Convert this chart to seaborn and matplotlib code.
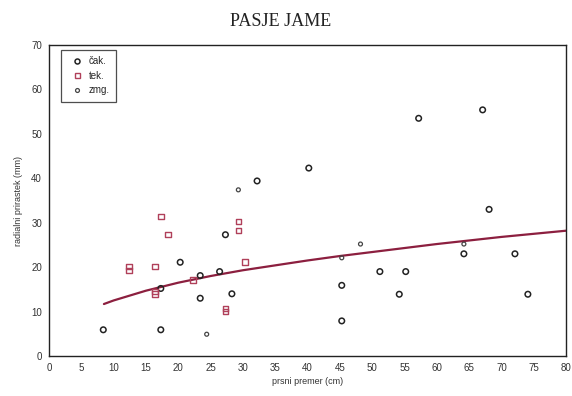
import matplotlib
matplotlib.use("Agg")
import matplotlib.pyplot as plt
from matplotlib.lines import Line2D
import seaborn as sns
import numpy as np

# ---- data ----
cak_x = [8.4, 17.3, 17.3, 20.3, 23.4, 23.4, 26.4, 27.3, 28.3, 32.2, 40.2, 45.3, 45.3,
         51.2, 54.2, 55.2, 57.2, 64.2, 67.1, 68.1, 72.1, 74.1]
cak_y = [5.9, 15.2, 5.9, 21.1, 18.1, 13.0, 19.0, 27.3, 14.0, 39.4, 42.3, 15.9, 7.9,
         19.0, 13.9, 19.0, 53.5, 23.0, 55.4, 33.0, 23.0, 13.9]
tek_x = [12.4, 12.4, 16.4, 16.4, 16.4, 17.3, 18.4, 22.3, 27.3, 27.3, 29.3, 29.3, 30.3]
tek_y = [20.1, 19.2, 20.1, 14.5, 14.0, 31.4, 27.3, 17.1, 10.7, 10.0, 30.3, 28.2, 21.1]
zmg_x = [24.4, 29.3, 45.3, 48.2, 64.2]
zmg_y = [4.9, 37.4, 22.1, 25.2, 25.2]
curve_x = [8.5, 10, 15, 20, 25, 30, 35, 40, 45, 50, 55, 60, 65, 70, 75, 80]
curve_y = [11.7, 12.5, 14.7, 16.5, 18.0, 19.3, 20.4, 21.5, 22.5, 23.4, 24.3, 25.2, 26.0, 26.8, 27.5, 28.2]
legend_labels = ["čak.", "tek.", "zmg."]
x_ticks = list(range(0, 85, 5))
y_ticks = list(range(0, 80, 10))

sns.set_theme(style="white")
plt.rcParams['font.family'] = ['Liberation Sans', 'DejaVu Sans']

fig = plt.figure(figsize=(5.72, 3.96), dpi=100)
ax = fig.add_axes([49/572, 1-356/396, (566-49)/572, (356-45)/396])

col_cak = "#222222"
col_tek = "#b0405a"
col_zmg = "#444444"
line_col = "#8c1f3f"

sns.lineplot(x=curve_x, y=curve_y, ax=ax, color=line_col, linewidth=1.6, zorder=2)

groups = [(cak_x, cak_y, "o", 16, col_cak, 1.1),
          (tek_x, tek_y, "s", 16, col_tek, 1.0),
          (zmg_x, zmg_y, "o", 8, col_zmg, 0.9)]
for gx, gy, mk, sz, c, lw in groups:
    n_before = len(ax.collections)
    sns.scatterplot(x=gx, y=gy, ax=ax, marker=mk, s=sz, color=c, linewidth=lw, zorder=3)
    for coll in ax.collections[n_before:]:
        coll.set_facecolor("none")
        coll.set_edgecolor(c)
        coll.set_linewidth(lw)

ax.set_xlim(0, 80)
ax.set_ylim(0, 70)
ax.set_xticks(x_ticks)
ax.set_yticks(y_ticks)
ax.set_xticklabels([str(t) for t in x_ticks], fontsize=7, color="#333333")
ax.set_yticklabels([str(t) for t in y_ticks], fontsize=7, color="#333333")
ax.tick_params(axis="both", length=0, pad=5)
for s in ax.spines.values():
    s.set_color("#222222")
    s.set_linewidth(1.0)
ax.set_xlabel("prsni premer (cm)", fontsize=6.5, color="#333333", labelpad=3)
ax.set_ylabel("radialni prirastek (mm)", fontsize=6.5, color="#333333", labelpad=6)
ax.grid(False)

handles = [
    Line2D([], [], marker="o", linestyle="none", markersize=3.6, markerfacecolor="none",
           markeredgecolor=col_cak, markeredgewidth=1.1),
    Line2D([], [], marker="s", linestyle="none", markersize=3.6, markerfacecolor="none",
           markeredgecolor=col_tek, markeredgewidth=1.0),
    Line2D([], [], marker="o", linestyle="none", markersize=2.8, markerfacecolor="none",
           markeredgecolor=col_zmg, markeredgewidth=0.9),
]
leg = ax.legend(handles, legend_labels, loc="upper left", bbox_to_anchor=(0.024, 0.985),
                fontsize=7, frameon=True, fancybox=False, edgecolor="#222222",
                borderpad=0.7, handletextpad=0.3, labelspacing=0.45, handlelength=1.8,
                borderaxespad=0)
leg.get_frame().set_linewidth(0.9)
leg._legend_box.sep = 4

fig.text(281/572, 1-22/396, "PASJE JAME", ha="center", va="center",
         fontsize=13, family=["Liberation Serif", "DejaVu Serif"], color="#222222")

fig.savefig("out.png", dpi=100)
